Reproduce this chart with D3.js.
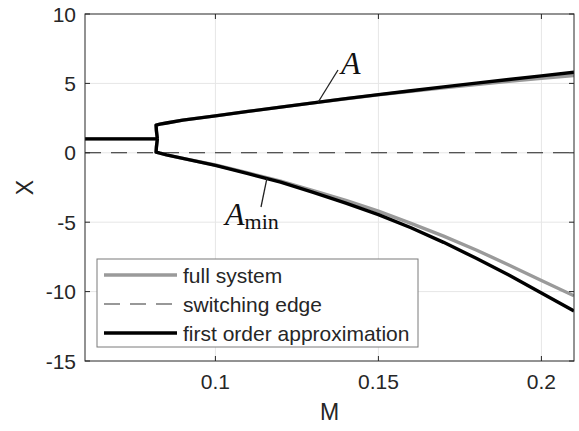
<!DOCTYPE html>
<html>
<head>
<meta charset="utf-8">
<script src="https://cdn.jsdelivr.net/npm/d3@7"></script>
<style>
  html, body { margin: 0; padding: 0; background: #fff; }
  svg { display: block; }
</style>
</head>
<body>
<svg id="chart" width="579" height="431"></svg>
<script>
// Parameter M and the branch values of X
const xTicks = [0.1, 0.15, 0.2];
const yTicks = [-15, -10, -5, 0, 5, 10];
const xTickLabels = ["0.1", "0.15", "0.2"];
const yTickLabels = ["-15", "-10", "-5", "0", "5", "10"];

// single equilibrium before the switching point
const stemM = [0.06, 0.0822];
const stemX = [1, 1];

// two branches after the switching point
const branchM = [0.0822, 0.0819, 0.0818, 0.083, 0.085, 0.09, 0.10, 0.11, 0.12, 0.13, 0.14, 0.15, 0.16, 0.17, 0.18, 0.19, 0.20, 0.21];
const upperFull   = [1, 1.6, 2.0, 2.06, 2.15, 2.35, 2.66, 2.98, 3.29, 3.60, 3.89, 4.17, 4.43, 4.68, 4.92, 5.15, 5.37, 5.57];
const upperApprox = [1, 1.6, 2.0, 2.06, 2.15, 2.35, 2.66, 2.98, 3.29, 3.60, 3.90, 4.19, 4.47, 4.75, 5.02, 5.28, 5.54, 5.80];
const lowerFull   = [1, 0.4, 0.05, -0.03, -0.15, -0.4, -0.88, -1.45, -2.05, -2.72, -3.42, -4.20, -5.08, -6.00, -7.00, -8.08, -9.20, -10.30];
const lowerApprox = [1, 0.4, 0.05, -0.03, -0.15, -0.4, -0.90, -1.50, -2.12, -2.85, -3.62, -4.45, -5.40, -6.45, -7.60, -8.80, -10.10, -11.40];

// switching edge X = 0
const edgeM = [0.06, 0.21];
const edgeX = [0, 0];

const legendLabels = ["full system", "switching edge", "first order approximation"];

const W = 579, H = 431;
const margin = { left: 85, right: 5, top: 14, bottom: 70 };
const svg = d3.select("#chart");
const x = d3.scaleLinear().domain([0.06, 0.21]).range([margin.left, W - margin.right]);
const y = d3.scaleLinear().domain([-15, 10]).range([H - margin.bottom, margin.top]);

const axisColor = "#262626";
const font = "'Liberation Sans', Arial, Helvetica, sans-serif";
const serif = "'Liberation Serif', 'Times New Roman', serif";

// grid
const grid = svg.append("g");
grid.selectAll("line.gx").data(xTicks).join("line")
  .attr("x1", d => x(d)).attr("x2", d => x(d))
  .attr("y1", y(-15)).attr("y2", y(10))
  .attr("stroke", "#e6e6e6").attr("stroke-width", 1);
grid.selectAll("line.gy").data(yTicks.filter(t => t > -15 && t < 10)).join("line")
  .attr("x1", x(0.06)).attr("x2", x(0.21))
  .attr("y1", d => y(d)).attr("y2", d => y(d))
  .attr("stroke", "#e6e6e6").attr("stroke-width", 1);

svg.append("clipPath").attr("id", "plotClip").append("rect")
  .attr("x", x(0.06)).attr("y", y(10))
  .attr("width", x(0.21) - x(0.06)).attr("height", y(-15) - y(10));

const plot = svg.append("g").attr("clip-path", "url(#plotClip)");
const line = d3.line().x(d => x(d[0])).y(d => y(d[1]));
const zip = (a, b) => a.map((v, i) => [v, b[i]]);

// switching edge
plot.append("path").attr("d", line(zip(edgeM, edgeX)))
  .attr("fill", "none").attr("stroke", "#222").attr("stroke-width", 1.1)
  .attr("stroke-dasharray", "16,10");

const grey = "#9a9a9a";
const black = "#000";
const lw = 3.4;
[[stemM, stemX], [branchM, upperFull], [branchM, lowerFull]].forEach(([m, v]) => {
  plot.append("path").attr("d", line(zip(m, v)))
    .attr("fill", "none").attr("stroke", grey).attr("stroke-width", lw)
    .attr("stroke-linejoin", "round");
});
[[stemM, stemX], [branchM, upperApprox], [branchM, lowerApprox]].forEach(([m, v]) => {
  plot.append("path").attr("d", line(zip(m, v)))
    .attr("fill", "none").attr("stroke", black).attr("stroke-width", lw)
    .attr("stroke-linejoin", "round");
});

// axes box with inward ticks
const tickLen = 5;
const ax = svg.append("g").attr("stroke", axisColor).attr("stroke-width", 1).attr("fill", "none");
ax.append("rect")
  .attr("x", x(0.06)).attr("y", y(10))
  .attr("width", x(0.21) - x(0.06)).attr("height", y(-15) - y(10));
xTicks.forEach(t => {
  ax.append("line").attr("x1", x(t)).attr("x2", x(t)).attr("y1", y(-15)).attr("y2", y(-15) - tickLen);
  ax.append("line").attr("x1", x(t)).attr("x2", x(t)).attr("y1", y(10)).attr("y2", y(10) + tickLen);
});
yTicks.forEach(t => {
  ax.append("line").attr("x1", x(0.06)).attr("x2", x(0.06) + tickLen).attr("y1", y(t)).attr("y2", y(t));
  ax.append("line").attr("x1", x(0.21)).attr("x2", x(0.21) - tickLen).attr("y1", y(t)).attr("y2", y(t));
});

// tick labels
svg.append("g").selectAll("text").data(xTicks).join("text")
  .attr("x", d => x(d)).attr("y", y(-15) + 28)
  .attr("text-anchor", "middle")
  .attr("font-family", font).attr("font-size", 21).attr("fill", axisColor)
  .text((d, i) => xTickLabels[i]);
svg.append("g").selectAll("text").data(yTicks).join("text")
  .attr("x", x(0.06) - 9).attr("y", d => y(d) + 7.5)
  .attr("text-anchor", "end")
  .attr("font-family", font).attr("font-size", 21).attr("fill", axisColor)
  .text((d, i) => yTickLabels[i]);

// axis labels
svg.append("text").attr("x", (x(0.06) + x(0.21)) / 2).attr("y", 420)
  .attr("text-anchor", "middle").attr("font-family", font).attr("font-size", 23)
  .attr("fill", axisColor).text("M");
svg.append("text").attr("transform", `translate(33,${(y(-15) + y(10)) / 2}) rotate(-90)`)
  .attr("text-anchor", "middle").attr("font-family", font).attr("font-size", 23)
  .attr("fill", axisColor).text("X");

// branch annotations
const ann = svg.append("g");
ann.append("line").attr("x1", x(0.1315)).attr("y1", y(3.64))
  .attr("x2", 338).attr("y2", 70).attr("stroke", "#222").attr("stroke-width", 1.3);
ann.append("text").attr("x", 341).attr("y", 74)
  .attr("font-family", serif).attr("font-style", "italic").attr("font-size", 32)
  .attr("fill", "#111").text("A");
ann.append("line").attr("x1", x(0.1158)).attr("y1", y(-1.85))
  .attr("x2", 261).attr("y2", 207).attr("stroke", "#222").attr("stroke-width", 1.3);
const amin = ann.append("text").attr("x", 225).attr("y", 225)
  .attr("font-family", serif).attr("fill", "#111");
amin.append("tspan").attr("font-style", "italic").attr("font-size", 32).text("A");
amin.append("tspan").attr("font-size", 22).attr("dy", 4).text("min");

// legend
const lg = svg.append("g");
lg.append("rect").attr("x", 97).attr("y", 259).attr("width", 321).attr("height", 88)
  .attr("fill", "#fff").attr("stroke", "#7a7a7a").attr("stroke-width", 1);
const rows = [
  { stroke: grey, w: lw, dash: null },
  { stroke: "#333", w: 1.1, dash: "16,10" },
  { stroke: black, w: lw, dash: null }
];
rows.forEach((r, i) => {
  const yy = 275 + i * 29;
  lg.append("line").attr("x1", 104).attr("x2", 177).attr("y1", yy).attr("y2", yy)
    .attr("stroke", r.stroke).attr("stroke-width", r.w)
    .attr("stroke-dasharray", r.dash);
  lg.append("text").attr("x", 183).attr("y", yy + 7.5)
    .attr("font-family", font).attr("font-size", 21).attr("fill", axisColor)
    .text(legendLabels[i]);
});
</script>
</body>
</html>
